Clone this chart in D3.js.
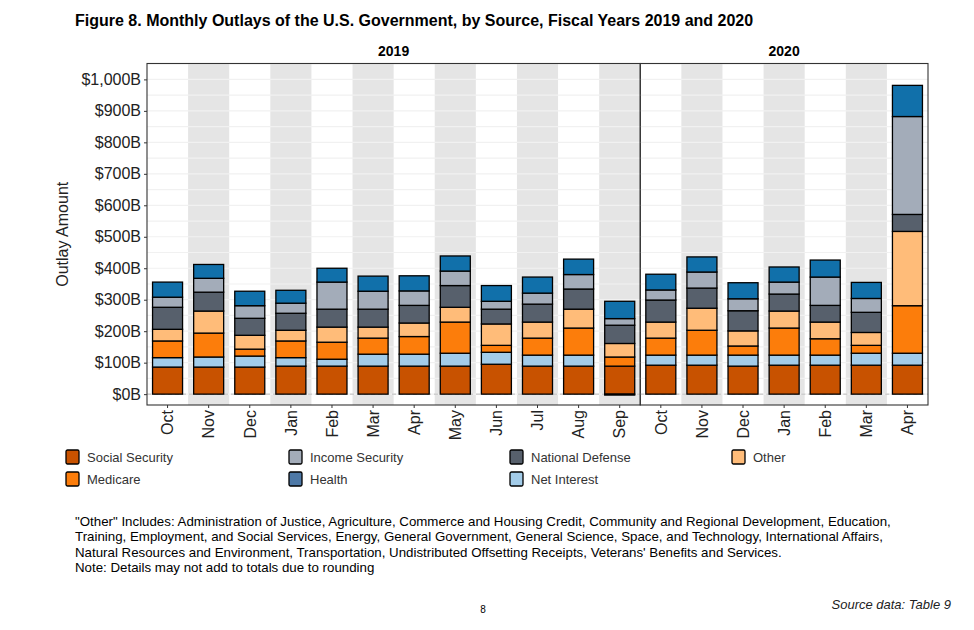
<!DOCTYPE html>
<html><head><meta charset="utf-8">
<script src="https://cdn.jsdelivr.net/npm/d3@7"></script>
<style>body{margin:0;background:#fff}svg{display:block}</style>
</head><body><svg id="c" width="974" height="630"></svg>
<script>
// ---- data (billions of dollars) ----
const months2019 = ["Oct","Nov","Dec","Jan","Feb","Mar","Apr","May","Jun","Jul","Aug","Sep"];
const months2020 = ["Oct","Nov","Dec","Jan","Feb","Mar","Apr"];
const fiscalYears = ["2019","2020"];
const seriesNames = ["Social Security","Net Interest","Medicare","Other","National Defense","Income Security","Health"];
const socialSecurity = [86,86,86,89,89,89,89,89,95,89,89,89, 92,92,89,92,92,92,92];
const netInterest    = [30,32,35,27,22,38,38,41,38,35,35,-3, 32,32,35,32,32,38,38];
const medicare       = [53,76,22,53,54,51,56,99,22,54,86,29, 54,79,29,86,52,25,151];
const other          = [37,70,44,34,48,35,43,47,68,51,60,43, 51,70,48,54,53,41,236];
const nationalDefense= [70,60,54,54,57,57,56,69,47,57,64,58, 70,64,64,54,53,64,54];
const incomeSecurity = [32,44,40,32,86,57,46,46,25,35,46,21, 32,51,38,38,90,44,311];
const health         = [48,44,46,41,44,48,48,48,50,51,49,55, 50,48,51,48,54,51,99];
const yTicks = [0,100,200,300,400,500,600,700,800,900,1000];
const legendOrder = ["Social Security","Medicare","Income Security","Health","National Defense","Net Interest","Other"];
const barColors = {"Social Security":"#c85200","Net Interest":"#a3cce9","Medicare":"#fc7d0b","Other":"#ffbc79","National Defense":"#57606c","Income Security":"#a3acb9","Health":"#1170aa"};
const legendColors = Object.assign({}, barColors, {"Health":"#4e79a7"});

const seriesArrays = [socialSecurity,netInterest,medicare,other,nationalDefense,incomeSecurity,health];
const rows = [];
months2019.forEach((m,i)=>rows.push({fy:"2019",month:m,idx:i}));
months2020.forEach((m,i)=>rows.push({fy:"2020",month:m,idx:months2019.length+i}));
rows.forEach(r=>seriesNames.forEach((s,k)=>r[s]=seriesArrays[k][r.idx]));

const svg = d3.select("#c");
const panelTop = 63.5, panelBottom = 405, left = 147, right = 928;
const nTotal = months2019.length + months2020.length;
const split = left + (right-left)*months2019.length/nTotal;
const panels = {
  "2019": {x0:left, x1:split, months:months2019},
  "2020": {x0:split, x1:right, months:months2020}
};
const y = d3.scaleLinear().domain([-34.5, 1050.5]).range([panelBottom, panelTop]);

// title
svg.append("text").attr("x",75).attr("y",26).attr("font-family","Liberation Sans, Arial, sans-serif")
  .attr("font-size",16).attr("font-weight","bold").attr("fill","#000")
  .text("Figure 8. Monthly Outlays of the U.S. Government, by Source, Fiscal Years 2019 and 2020");

const stack = d3.stack().keys(seriesNames).offset(d3.stackOffsetDiverging);

fiscalYears.forEach(fy=>{
  const p = panels[fy];
  const data = rows.filter(r=>r.fy===fy);
  const x = d3.scaleBand().domain(p.months).range([p.x0,p.x1]).padding(0);
  const g = svg.append("g");
  g.selectAll("rect.band").data(p.months.filter((m,i)=>i%2===1)).join("rect")
    .attr("x",d=>x(d)).attr("width",x.bandwidth()).attr("y",panelTop).attr("height",panelBottom-panelTop)
    .attr("fill","#e5e5e5");
  const grid = d3.range(0,1051,50);
  g.selectAll("line.grid").data(grid).join("line")
    .attr("x1",p.x0).attr("x2",p.x1).attr("y1",d=>y(d)).attr("y2",d=>y(d))
    .attr("stroke","#f1f1f1").attr("stroke-width",1.2);
  g.append("line").attr("x1",p.x0).attr("x2",p.x1).attr("y1",y(0)).attr("y2",y(0))
    .attr("stroke","#bdbdbd").attr("stroke-dasharray","4,3").attr("stroke-width",1);
  const bw = x.bandwidth()*0.73;
  const stacked = stack(data);
  stacked.forEach(layer=>{
    g.selectAll(null).data(layer).join("rect")
      .attr("x",d=>x(d.data.month)+(x.bandwidth()-bw)/2).attr("width",bw)
      .attr("y",d=>y(Math.max(d[0],d[1]))).attr("height",d=>Math.abs(y(d[0])-y(d[1])))
      .attr("fill",barColors[layer.key]).attr("stroke","#000").attr("stroke-width",1.3);
  });
  g.append("rect").attr("x",p.x0).attr("y",panelTop).attr("width",p.x1-p.x0).attr("height",panelBottom-panelTop)
    .attr("fill","none").attr("stroke","#333").attr("stroke-width",1.1);
  svg.append("text").attr("x",(p.x0+p.x1)/2).attr("y",56).attr("text-anchor","middle")
    .attr("font-family","Liberation Sans, Arial, sans-serif").attr("font-size",14).attr("font-weight","bold")
    .text(fy);
  const xa = svg.append("g").attr("transform",`translate(0,${panelBottom})`)
    .call(d3.axisBottom(x).tickSize(3).tickSizeOuter(0));
  xa.select(".domain").remove();
  xa.selectAll(".tick line").attr("stroke","#333");
  xa.selectAll(".tick text").attr("transform","rotate(-90)").attr("text-anchor","end")
    .attr("x",-5).attr("y",0).attr("dy","0.36em")
    .attr("font-family","Liberation Sans, Arial, sans-serif").attr("font-size",16).attr("fill","#222");
});

const ya = svg.append("g").attr("transform",`translate(${left},0)`)
  .call(d3.axisLeft(y).tickValues(yTicks).tickSize(3).tickFormat(d=>"$"+d3.format(",")(d)+"B"));
ya.select(".domain").remove();
ya.selectAll(".tick line").attr("stroke","#333");
ya.selectAll(".tick text").attr("font-family","Liberation Sans, Arial, sans-serif").attr("font-size",16).attr("fill","#222").attr("x",-6);
svg.append("text").attr("transform",`translate(68,${(panelTop+panelBottom)/2}) rotate(-90)`)
  .attr("text-anchor","middle").attr("font-family","Liberation Sans, Arial, sans-serif").attr("font-size",16).attr("fill","#222")
  .text("Outlay Amount");

const legX = [66,289,510,732], legY = [457,479];
const lg = svg.append("g");
legendOrder.forEach((s,i)=>{
  const col = Math.floor(i/2), row = i%2;
  const gx = lg.append("g").attr("transform",`translate(${legX[col]},${legY[row]})`);
  gx.append("rect").attr("x",0).attr("y",-7).attr("width",13).attr("height",14).attr("rx",1.5)
    .attr("fill",legendColors[s]).attr("stroke","#000").attr("stroke-width",1.3);
  gx.append("text").attr("x",21).attr("y",0).attr("dy","0.35em")
    .attr("font-family","Liberation Sans, Arial, sans-serif").attr("font-size",13).attr("fill","#333").text(s);
});

const footer = [
 "\"Other\" Includes: Administration of Justice, Agriculture, Commerce and Housing Credit, Community and Regional Development, Education,",
 "Training, Employment, and Social Services, Energy, General Government, General Science, Space, and Technology, International Affairs,",
 "Natural Resources and Environment, Transportation, Undistributed Offsetting Receipts, Veterans' Benefits and Services.",
 "Note: Details may not add to totals due to rounding"];
svg.append("g").selectAll("text").data(footer).join("text")
  .attr("x",75).attr("y",(d,i)=>526+i*15.3)
  .attr("font-family","Liberation Sans, Arial, sans-serif").attr("font-size",13.3).attr("fill","#000")
  .text(d=>d);
svg.append("text").attr("x",483).attr("y",613).attr("text-anchor","middle")
  .attr("font-family","Liberation Sans, Arial, sans-serif").attr("font-size",10).text("8");
svg.append("text").attr("x",951).attr("y",609).attr("text-anchor","end").attr("font-style","italic")
  .attr("font-family","Liberation Sans, Arial, sans-serif").attr("font-size",13).attr("fill","#222").text("Source data: Table 9");
</script></body></html>
